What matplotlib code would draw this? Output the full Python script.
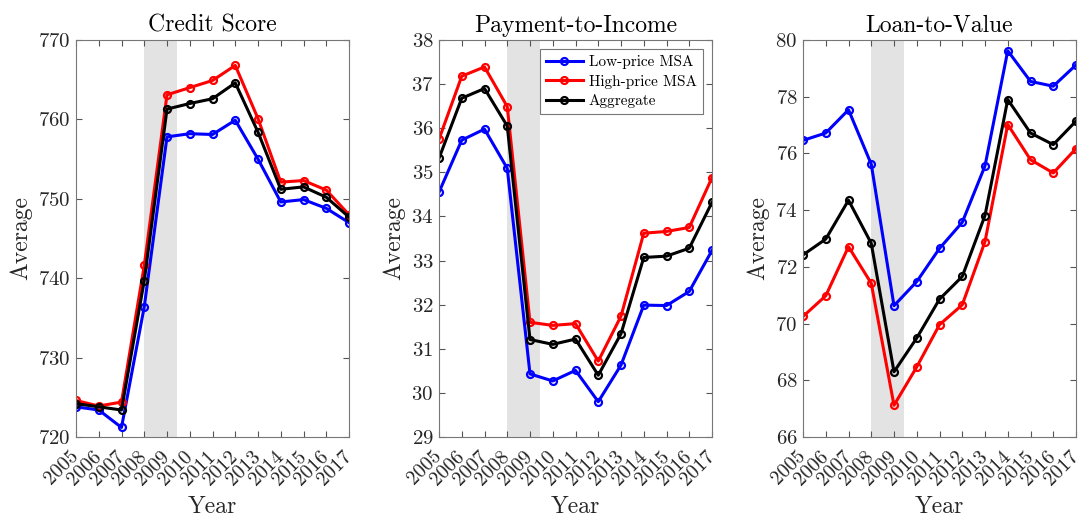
import matplotlib
matplotlib.use("Agg")
import matplotlib.pyplot as plt

plt.rcParams['font.family'] = 'cmr10'
plt.rcParams['mathtext.fontset'] = 'cm'
plt.rcParams['axes.formatter.use_mathtext'] = True

years = list(range(2005, 2018))

# Credit Score
cs_low = [723.8, 723.4, 721.2, 736.4, 757.8, 758.2, 758.1, 759.9, 755.0, 749.6, 749.9, 748.8, 747.0]
cs_high = [724.6, 723.9, 724.4, 741.6, 763.1, 764.0, 764.9, 766.8, 760.1, 752.1, 752.3, 751.1, 748.0]
cs_agg = [724.2, 723.8, 723.4, 739.7, 761.3, 762.0, 762.6, 764.6, 758.4, 751.2, 751.5, 750.2, 747.7]

# Payment-to-Income
pti_low = [34.55, 35.73, 35.98, 35.09, 30.43, 30.27, 30.51, 29.80, 30.63, 31.99, 31.98, 32.30, 33.23]
pti_high = [35.75, 37.18, 37.39, 36.49, 31.60, 31.53, 31.57, 30.72, 31.74, 33.62, 33.66, 33.75, 34.88]
pti_agg = [35.32, 36.68, 36.90, 36.05, 31.21, 31.10, 31.22, 30.40, 31.34, 33.07, 33.10, 33.28, 34.32]

# Loan-to-Value
ltv_low = [76.46, 76.72, 77.54, 75.62, 70.63, 71.48, 72.65, 73.57, 75.56, 79.62, 78.54, 78.37, 79.12]
ltv_high = [70.25, 70.98, 72.71, 71.42, 67.12, 68.47, 69.96, 70.66, 72.89, 77.02, 75.78, 75.31, 76.17]
ltv_agg = [72.42, 72.98, 74.35, 72.83, 68.30, 69.49, 70.86, 71.66, 73.81, 77.90, 76.72, 76.31, 77.14]

panels = [
    ("Credit Score", cs_low, cs_high, cs_agg, (720, 770), [720, 730, 740, 750, 760, 770]),
    ("Payment-to-Income", pti_low, pti_high, pti_agg, (29, 38), list(range(29, 39))),
    ("Loan-to-Value", ltv_low, ltv_high, ltv_agg, (66, 80), list(range(66, 81, 2))),
]
recession = (2008, 2009.45)

fig = plt.figure(figsize=(10.89, 5.16), dpi=100)
lefts = [76, 439, 803]
W, H = 1089, 516
txt = '#262626'

for i, (title, low, high, agg, ylim, yt) in enumerate(panels):
    ax = fig.add_axes([lefts[i] / W, 1 - 437 / H, 273 / W, 397 / H])
    ax.axvspan(recession[0], recession[1], color='#e3e3e3', lw=0, zorder=0)
    kw = dict(lw=2.2, marker='o', ms=5, mfc='none', mew=1.6)
    ax.plot(years, low, color='#0000ff', label='Low-price MSA', **kw)
    ax.plot(years, high, color='#ff0000', label='High-price MSA', **kw)
    ax.plot(years, agg, color='black', label='Aggregate', **kw)
    ax.set_xlim(2005, 2017)
    ax.set_ylim(*ylim)
    ax.set_yticks(yt)
    ax.set_xticks(years)
    ax.set_xticklabels([str(y) for y in years], rotation=45, ha='right',
                       va='center', rotation_mode='anchor')
    ax.tick_params(direction='in', top=True, right=True, length=4,
                   labelsize=15, colors='#555555', labelcolor=txt, pad=4)
    ax.tick_params(axis='x', pad=12)
    for tl in ax.get_xticklabels():
        tl.set_fontsize(14.5)
    for s in ax.spines.values():
        s.set_color('#777777')
        s.set_linewidth(0.8)
    ax.set_title(title, fontsize=17, color='black', pad=6)
    ax.set_xlabel('Year', fontsize=17, color=txt, labelpad=5)
    ax.set_ylabel('Average', fontsize=17, color=txt, labelpad=4)
    if i == 1:
        leg = ax.legend(loc='upper right', fontsize=11, fancybox=False,
                        framealpha=1, edgecolor='#777777', borderpad=0.4,
                        handlelength=2.4, handletextpad=0.4,
                        labelspacing=0.35, borderaxespad=0.6)
        leg.get_frame().set_linewidth(0.8)

fig.savefig('out.png', dpi=100)
